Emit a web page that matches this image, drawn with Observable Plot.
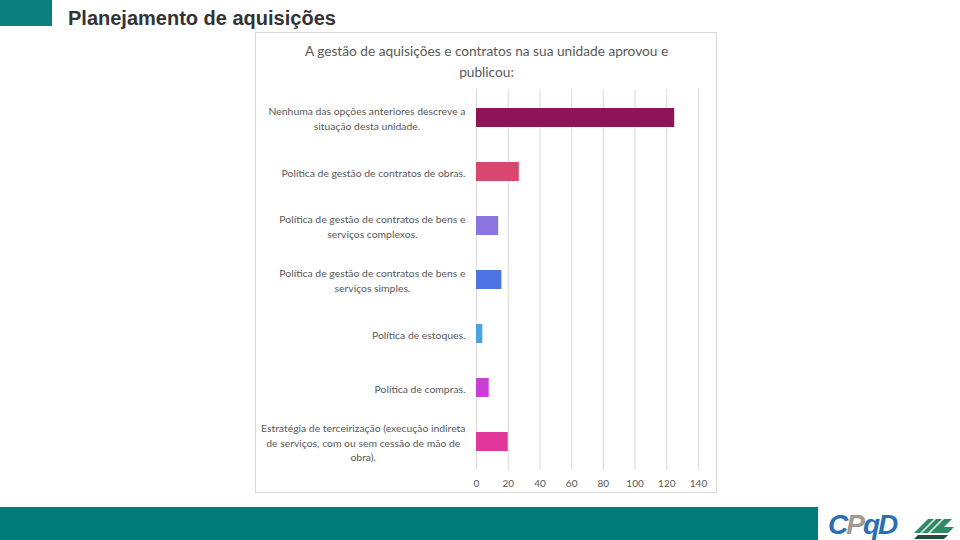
<!DOCTYPE html>
<html><head><meta charset="utf-8">
<script src="https://cdn.jsdelivr.net/npm/d3@7"></script>
<script src="https://cdn.jsdelivr.net/npm/@observablehq/plot@0.6"></script>
<style>
body{margin:0;width:960px;height:540px;position:relative;overflow:hidden;background:#fff;font-family:Lato,sans-serif}
#tl{position:absolute;left:0;top:0;width:52px;height:26px;background:#0B7F7D}
#title{position:absolute;left:68px;top:7px;font-family:"Liberation Sans",Arial,sans-serif;font-weight:bold;font-size:20px;color:#333}
#box{position:absolute;left:255px;top:32px;width:462px;height:461px;border:1px solid #d9d9d9;box-sizing:border-box}
#ctitle{position:absolute;left:255px;top:40px;width:463px;text-align:center;font-family:Lato,sans-serif;font-size:13.7px;line-height:21px;color:#595959}
#chart{position:absolute;left:255px;top:82px}
#chart svg{overflow:visible}
#band{position:absolute;left:0;top:507px;width:818px;height:33px;background:#007B7A}
#logo{position:absolute;left:826px;top:507px}
</style></head><body>
<div id="tl"></div>
<div id="title">Planejamento de aquisições</div>
<div id="box"></div>
<div id="ctitle">A gestão de aquisições e contratos na sua unidade aprovou e<br>publicou:</div>
<div id="chart"></div>
<div id="band"></div>
<div id="logo"><svg width="134" height="33" viewBox="0 0 134 33">
<text x="2" y="27" font-family="Liberation Sans" font-weight="bold" font-style="italic" font-size="28" fill="#2A6FB6" letter-spacing="-2">C<tspan fill="#A29A90">P</tspan>qD</text>
<g transform="translate(88,6)">
<polygon points="0,20 14,6 20,6 6,20" fill="#2F8A66"/>
<polygon points="8,20 22,6 28,6 14,20" fill="#2F8A66"/>
<polygon points="16,20 30,6 38,6 30,14 40,14 34,20" fill="#2F8A66"/>
<polygon points="4,22 34,22 30,26 0,26" fill="#1E4F3C"/>
</g></svg></div>
<script>
const categories = [
  "Nenhuma das opções anteriores descreve a\nsituação desta unidade.",
  "Política de gestão de contratos de obras.",
  "Política de gestão de contratos de bens e\nserviços complexos.",
  "Política de gestão de contratos de bens e\nserviços simples.",
  "Política de estoques.",
  "Política de compras.",
  "Estratégia de terceirização (execução indireta\nde serviços, com ou sem cessão de mão de\nobra)."
];
const values = [125, 27, 14, 16, 4, 8, 20];
const xTicks = [0, 20, 40, 60, 80, 100, 120, 140];
const barColors = ["#8E1457", "#D8476E", "#8B73E0", "#4C74E3", "#4AA3E0", "#C93FD6", "#E2379A"];

const data = categories.map((c, i) => ({category: c, value: values[i]}));

const labelFont = 10.4;
const ctx = document.createElement("canvas").getContext("2d");
ctx.font = `${labelFont}px Lato`;
const widthOf = s => Math.max(...s.split("\n").map(l => ctx.measureText(l).width));

const labelMarks = categories.map(c => Plot.text([c], {
  y: d => d, text: d => d, frameAnchor: "left", textAnchor: "middle",
  dx: -11 - widthOf(c) / 2, lineHeight: 1.4, fill: "#595959", fontSize: labelFont
}));

const chart = Plot.plot({
  width: 463, height: 410,
  marginLeft: 221, marginRight: 20, marginTop: 7, marginBottom: 22,
  style: {fontFamily: "Lato", fontSize: "10px", color: "#595959", background: "transparent"},
  x: {domain: [0, 140], ticks: xTicks, label: null},
  y: {domain: categories, paddingInner: 0.65, paddingOuter: 0.325, axis: null},
  color: {domain: categories, range: barColors},
  marks: [
    Plot.gridX(xTicks, {stroke: "#d9d9d9", strokeOpacity: 1}),
    Plot.barX(data, {x: "value", y: "category", fill: "category"}),
    Plot.axisX({ticks: xTicks, tickSize: 0, tickPadding: 9, fill: "#595959", fontSize: 10}),
    ...labelMarks
  ]
});
document.getElementById("chart").append(chart);
</script>
</body></html>
